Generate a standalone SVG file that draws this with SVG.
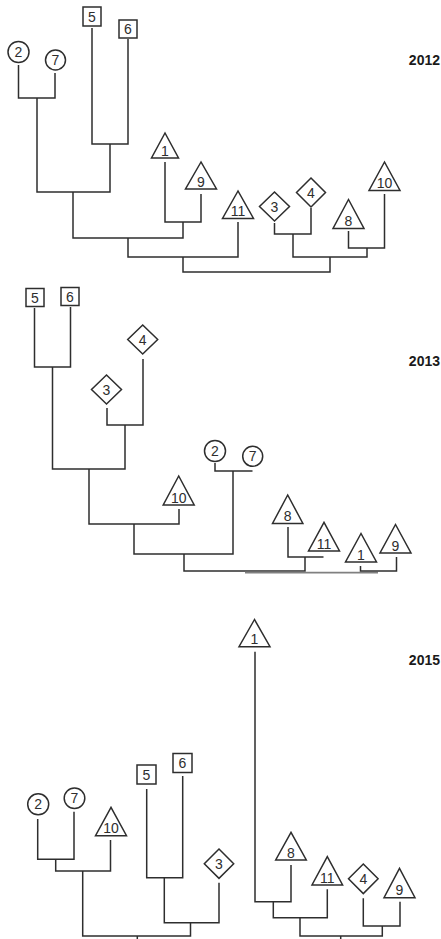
<svg xmlns="http://www.w3.org/2000/svg" width="441" height="939" viewBox="0 0 441 939">
<style>
.n{fill:#fff;stroke:#2e2e2e;stroke-width:1.5}
.t{font-family:"Liberation Sans",Arial,sans-serif;font-size:14px;fill:#2e2e2e;text-anchor:middle}
.y{font-family:"Liberation Sans",Arial,sans-serif;font-size:14px;font-weight:bold;fill:#1a1a1a;text-anchor:end}
.c path{fill:none;stroke:#2e2e2e;stroke-width:1.5}
</style>
<rect width="441" height="939" fill="#fff"/>
<text class="y" x="440" y="65">2012</text>
<text class="y" x="440" y="366">2013</text>
<text class="y" x="440" y="665">2015</text>
<g class="c" id="connectors">
<!-- 2012 -->
<path d="M18.5,65 V98 H55 V73"/>
<path d="M92,28 V144 H128 V39"/>
<path d="M37,98 V192 H110 V144"/>
<path d="M165,162 V222 H201 V194"/>
<path d="M73,192 V238 H183 V222"/>
<path d="M128,238 V257 H238 V222"/>
<path d="M274.5,223 V234 H311 V208"/>
<path d="M348.5,231 V248 H384.5 V194"/>
<path d="M293,234 V257 H367 V248"/>
<path d="M183,257 V272 H330 V257"/>
<!-- 2013 -->
<path d="M34.5,308 V367 H70.5 V307"/>
<path d="M107,408 V425 H143 V359"/>
<path d="M52.5,367 V469 H125 V425"/>
<path d="M89,469 V524 H179 V509"/>
<path d="M215,463 V471 H252.5"/>
<path d="M134,524 V554 H233 V471"/>
<path d="M288,527 V557 H323.5"/>
<path d="M184,554 V571 H305 V557"/>
<path d="M245,572.6 H378" style="stroke:#808080;stroke-width:1.8"/>
<path d="M360.5,566 V571 H396.5 V557"/>
<!-- 2015 -->
<path d="M37.7,819 V859.3 H74 V811.7"/>
<path d="M55.7,859.3 V871 H110.5 V840"/>
<path d="M146.7,789 V877.7 H182.7 V776"/>
<path d="M164.3,877.7 V922.7 H219 V882.7"/>
<path d="M82.7,871 V936 H190.5 V922.7"/>
<path d="M137.3,936 V939"/>
<path d="M255,651.7 V901.7 H291 V865"/>
<path d="M273.3,901.7 V917.7 H327.3 V889.3"/>
<path d="M363.3,898.3 V926 H400 V901.7"/>
<path d="M300,917.7 V936 H382.3 V926"/>
<path d="M340.7,936 V939"/>
</g>
<!-- 2012 nodes -->
<g id="a2"><circle class="n" cx="18.5" cy="52" r="10.5"/><text class="t" x="18.5" y="57">2</text></g>
<g id="a7"><circle class="n" cx="55.5" cy="60" r="10"/><text class="t" x="55.5" y="65">7</text></g>
<g id="a5"><rect class="n" x="83" y="7" width="18" height="19"/><text class="t" x="92" y="21.5">5</text></g>
<g id="a6"><rect class="n" x="119" y="20" width="18" height="18"/><text class="t" x="128" y="34">6</text></g>
<g id="a1"><polygon class="n" points="165,133 151.5,158 178.5,158"/><text class="t" x="165" y="155.5">1</text></g>
<g id="a9"><polygon class="n" points="201,162 185.5,189 216.5,189"/><text class="t" x="201" y="186.5">9</text></g>
<g id="a11"><polygon class="n" points="238,191 222.5,218.5 253.5,218.5"/><text class="t" x="238" y="216">11</text></g>
<g id="a3"><polygon class="n" points="274.5,192 289.5,206.5 274.5,221 259.5,206.5"/><text class="t" x="274.5" y="211.5">3</text></g>
<g id="a4"><polygon class="n" points="311,178 325.5,192.5 311,207 296.5,192.5"/><text class="t" x="311" y="197.5">4</text></g>
<g id="a8"><polygon class="n" points="348.5,199.5 333,228.5 364,228.5"/><text class="t" x="348.5" y="226">8</text></g>
<g id="a10"><polygon class="n" points="384.5,162 369,190.5 400,190.5"/><text class="t" x="384.5" y="188">10</text></g>
<!-- 2013 nodes -->
<g id="b5"><rect class="n" x="26" y="288.5" width="18" height="18"/><text class="t" x="35" y="302.5">5</text></g>
<g id="b6"><rect class="n" x="61" y="287.5" width="18" height="18"/><text class="t" x="70" y="301.5">6</text></g>
<g id="b4"><polygon class="n" points="142.7,325 157.7,339.5 142.7,354 127.7,339.5"/><text class="t" x="142.7" y="344.5">4</text></g>
<g id="b3"><polygon class="n" points="106.5,375 121.5,389.5 106.5,404 91.5,389.5"/><text class="t" x="106.5" y="394.5">3</text></g>
<g id="b2"><circle class="n" cx="215" cy="451" r="10.5"/><text class="t" x="215" y="456">2</text></g>
<g id="b7"><circle class="n" cx="252.7" cy="456.3" r="10"/><text class="t" x="252.7" y="461.3">7</text></g>
<g id="b10"><polygon class="n" points="178.7,476 163.2,505 194.2,505"/><text class="t" x="178.7" y="502.5">10</text></g>
<g id="b8"><polygon class="n" points="287.7,495 272.5,523.5 302.9,523.5"/><text class="t" x="287.7" y="521">8</text></g>
<g id="b11"><polygon class="n" points="324,522.3 308.5,551 339.5,551"/><text class="t" x="324" y="548.5">11</text></g>
<g id="b1"><polygon class="n" points="361,533.5 345.5,562 376.5,562"/><text class="t" x="361" y="559.5">1</text></g>
<g id="b9"><polygon class="n" points="395.5,524.5 380,553 411,553"/><text class="t" x="395.5" y="550.5">9</text></g>
<!-- 2015 nodes -->
<g id="c2"><circle class="n" cx="38.2" cy="804.3" r="10.5"/><text class="t" x="38.2" y="809.3">2</text></g>
<g id="c7"><circle class="n" cx="74.5" cy="798.3" r="10.3"/><text class="t" x="74.5" y="803.3">7</text></g>
<g id="c10"><polygon class="n" points="111,807.3 95.5,835.7 126.5,835.7"/><text class="t" x="111" y="833.2">10</text></g>
<g id="c5"><rect class="n" x="137" y="765" width="19" height="19"/><text class="t" x="146.5" y="779.5">5</text></g>
<g id="c6"><rect class="n" x="173" y="753.5" width="19" height="19"/><text class="t" x="182.5" y="768">6</text></g>
<g id="c3"><polygon class="n" points="219,849 233.7,863.7 219,878.4 204.3,863.7"/><text class="t" x="219" y="868.7">3</text></g>
<g id="c1"><polygon class="n" points="254.5,619.5 239,646.7 270,646.7"/><text class="t" x="254.5" y="644.2">1</text></g>
<g id="c8"><polygon class="n" points="291,832.3 275.7,860 306.3,860"/><text class="t" x="291" y="857.5">8</text></g>
<g id="c11"><polygon class="n" points="327.3,856.7 312,885 342.6,885"/><text class="t" x="327.3" y="882.5">11</text></g>
<g id="c4"><polygon class="n" points="363.3,864 378.1,878.8 363.3,893.6 348.5,878.8"/><text class="t" x="363.3" y="883.8">4</text></g>
<g id="c9"><polygon class="n" points="399.5,868.3 384,897.7 415,897.7"/><text class="t" x="399.5" y="895.2">9</text></g>
</svg>
